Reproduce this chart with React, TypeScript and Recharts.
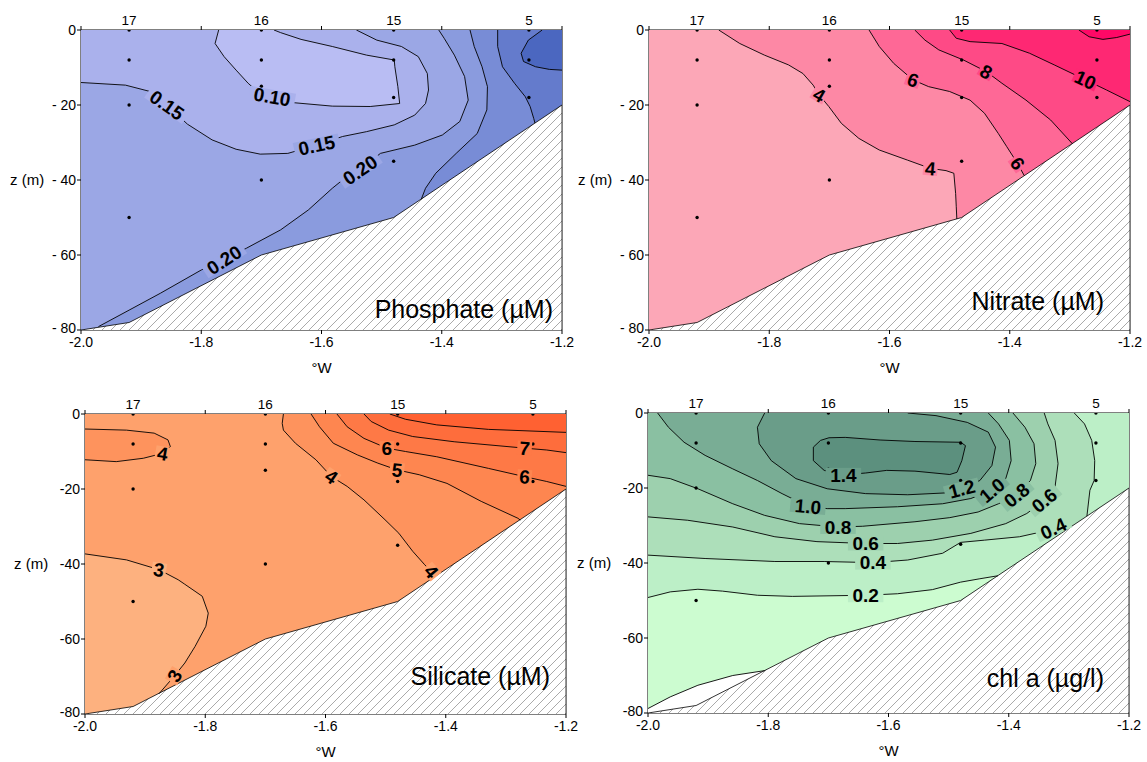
import React from "react";
import { ScatterChart, Scatter, XAxis, YAxis } from "recharts";

type Pt = [number, number];
type Lbl = { x: number; z: number; t: string; a: number; k: number };

// stations along the section (°W), names and sampled depths (m)
const stationLon = [-1.92, -1.7, -1.48, -1.255];
const stationNames = ["17", "16", "15", "5"];
const stationDepths = [
  [0, -8, -20, -50],
  [0, -8, -15, -40],
  [0, -8, -18, -35],
  [0, -8, -18],
];
const lonTicks = [-2.0, -1.8, -1.6, -1.4, -1.2];
const depthTicks = [0, -20, -40, -60, -80];

const seabed: Pt[] = [[-2.0, -80], [-1.92, -78], [-1.7, -60], [-1.48, -50], [-1.2, -20]];
const frame: Pt[] = [[-2.0, 0], [-1.2, 0], [-1.2, -80], [-2.0, -80]];

// Phosphate contours
const po4_010: Pt[] = [[-1.771, 0], [-1.777, -3.6], [-1.762, -7.1], [-1.742, -10.7], [-1.722, -14.2], [-1.708, -16.2], [-1.682, -17.8], [-1.645, -19.4], [-1.582, -20.3], [-1.519, -20.4], [-1.47, -19.6], [-1.473, -15.1], [-1.478, -9.8], [-1.479, -8.0], [-1.525, -6.7], [-1.582, -4.4], [-1.634, -2.5], [-1.668, -0.7], [-1.679, 0]];
const po4_015: Pt[] = [[-2.0, -14.0], [-1.926, -14.7], [-1.885, -16.4], [-1.857, -20.0], [-1.823, -25.1], [-1.782, -29.3], [-1.742, -31.8], [-1.702, -33.1], [-1.656, -32.9], [-1.608, -30.7], [-1.565, -28.4], [-1.525, -27.1], [-1.479, -25.3], [-1.445, -22.7], [-1.427, -19.6], [-1.422, -16.0], [-1.424, -11.6], [-1.439, -7.1], [-1.467, -4.4], [-1.508, -2.7], [-1.542, 0]];
const po4_020: Pt[] = [[-1.971, -79.1], [-1.92, -74.7], [-1.868, -70.2], [-1.8, -64.0], [-1.762, -61.3], [-1.725, -58.2], [-1.668, -53.3], [-1.622, -48.0], [-1.582, -42.2], [-1.565, -40.0], [-1.536, -37.3], [-1.502, -32.9], [-1.445, -30.7], [-1.399, -28.0], [-1.37, -24.4], [-1.356, -18.7], [-1.362, -12.4], [-1.379, -6.7], [-1.396, -2.2], [-1.405, 0]];
const po4_025: Pt[] = [[-1.353, 0], [-1.346, -4.4], [-1.333, -9.8], [-1.324, -15.1], [-1.325, -21.3], [-1.341, -27.6], [-1.376, -32.9], [-1.41, -38.2], [-1.427, -42.2], [-1.434, -45.1]];
const po4_030: Pt[] = [[-1.307, 0], [-1.307, -4.4], [-1.299, -9.8], [-1.279, -14.2], [-1.261, -17.8], [-1.253, -20.4], [-1.247, -23.6], [-1.245, -24.8]];
const po4_035: Pt[] = [[-1.233, 0], [-1.256, -2.7], [-1.268, -6.2], [-1.264, -8.4], [-1.244, -9.8], [-1.221, -10.5], [-1.2, -10.7]];
const po4Colors = ["#b9bdf3", "#aab1ec", "#9ba7e5", "#8a9bde", "#788cd6", "#647bcc", "#4b67c0"];
const po4Labels: Lbl[] = [
  { x: -1.857, z: -20.0, t: "0.15", a: 35, k: 1 },
  { x: -1.608, z: -30.7, t: "0.15", a: -12, k: 2 },
  { x: -1.682, z: -17.8, t: "0.10", a: 10, k: 1 },
  { x: -1.762, z: -61.3, t: "0.20", a: -33, k: 2 },
  { x: -1.536, z: -37.3, t: "0.20", a: -35, k: 2 },
];

// Nitrate contours
const no3_4: Pt[] = [[-1.884, 0], [-1.849, -3.6], [-1.808, -6.7], [-1.768, -9.3], [-1.744, -11.6], [-1.727, -14.7], [-1.717, -17.3], [-1.701, -20.4], [-1.68, -24.9], [-1.651, -28.9], [-1.617, -32.0], [-1.57, -34.7], [-1.532, -36.9], [-1.506, -37.5], [-1.493, -38.2], [-1.49, -43.6], [-1.489, -47.0], [-1.488, -50.4]];
const no3_6: Pt[] = [[-1.634, 0], [-1.617, -4.4], [-1.593, -8.9], [-1.561, -13.3], [-1.535, -15.1], [-1.5, -16.4], [-1.466, -18.7], [-1.442, -22.2], [-1.419, -27.6], [-1.405, -31.1], [-1.387, -35.6], [-1.376, -38.8]];
const no3_8: Pt[] = [[-1.558, 0], [-1.541, -2.7], [-1.518, -5.3], [-1.477, -8.0], [-1.439, -11.1], [-1.413, -14.2], [-1.373, -18.7], [-1.332, -24.0], [-1.296, -30.3]];
const no3_10: Pt[] = [[-1.5, 0], [-1.489, -2.2], [-1.466, -3.1], [-1.413, -3.6], [-1.367, -6.2], [-1.326, -9.3], [-1.274, -13.3], [-1.239, -16.0], [-1.2, -19.1]];
const no3_12: Pt[] = [[-1.285, 0], [-1.268, -1.8], [-1.245, -2.5], [-1.222, -2.0], [-1.2, -1.1]];
const no3Colors = ["#fca7b7", "#fd88a5", "#fe6896", "#fe4a86", "#fe2873", "#ff0866"];
const no3Labels: Lbl[] = [
  { x: -1.717, z: -17.3, t: "4", a: 30, k: 1 },
  { x: -1.532, z: -36.9, t: "4", a: 5, k: 1 },
  { x: -1.561, z: -13.3, t: "6", a: 20, k: 2 },
  { x: -1.387, z: -35.6, t: "6", a: 55, k: 2 },
  { x: -1.439, z: -11.1, t: "8", a: 30, k: 3 },
  { x: -1.274, z: -13.3, t: "10", a: 25, k: 4 },
];

// Silicate contours
const si_3: Pt[] = [[-2.0, -37.3], [-1.931, -38.9], [-1.877, -41.5], [-1.845, -44.2], [-1.834, -45.4], [-1.805, -48.6], [-1.795, -53.1], [-1.799, -56.6], [-1.817, -62.0], [-1.834, -66.4], [-1.851, -69.8], [-1.877, -74.6]];
const si_4loop: Pt[] = [[-2.0, -4.0], [-1.931, -4.3], [-1.885, -5.1], [-1.862, -6.9], [-1.858, -8.7], [-1.871, -10.5], [-1.903, -11.8], [-1.948, -12.7], [-2.0, -12.2]];
const si_4: Pt[] = [[-1.67, 0], [-1.672, -2.5], [-1.67, -4.3], [-1.65, -7.8], [-1.616, -12.2], [-1.59, -16.7], [-1.564, -19.3], [-1.536, -22.9], [-1.501, -28.2], [-1.478, -31.8], [-1.455, -36.6], [-1.435, -40.2], [-1.424, -42.0], [-1.415, -43.0]];
const si_5: Pt[] = [[-1.624, 0], [-1.61, -3.4], [-1.587, -7.8], [-1.547, -10.9], [-1.513, -13.1], [-1.481, -14.9], [-1.444, -16.2], [-1.398, -18.5], [-1.341, -23.3], [-1.28, -27.8], [-1.276, -28.3]];
const si_6: Pt[] = [[-1.581, 0], [-1.564, -3.4], [-1.536, -6.5], [-1.498, -9.1], [-1.467, -10.0], [-1.415, -11.4], [-1.329, -14.5], [-1.269, -16.7], [-1.232, -18.0], [-1.2, -19.3]];
const si_7: Pt[] = [[-1.536, 0], [-1.524, -2.0], [-1.495, -4.3], [-1.455, -6.0], [-1.386, -7.4], [-1.269, -9.1], [-1.232, -9.6], [-1.2, -10.3]];
const si_8: Pt[] = [[-1.493, 0], [-1.467, -1.4], [-1.415, -2.9], [-1.329, -4.1], [-1.2, -4.9]];
const siColors = ["#fdb17f", "#fea16c", "#fe935d", "#fe8650", "#fe7946", "#fe6d3c", "#ff6132"];
const siLabels: Lbl[] = [
  { x: -1.871, z: -10.5, t: "4", a: 10, k: 1 },
  { x: -1.59, z: -16.7, t: "4", a: 35, k: 1 },
  { x: -1.424, z: -42.0, t: "4", a: 50, k: 1 },
  { x: -1.481, z: -14.9, t: "5", a: 5, k: 2 },
  { x: -1.498, z: -9.1, t: "6", a: 0, k: 3 },
  { x: -1.269, z: -16.7, t: "6", a: 5, k: 3 },
  { x: -1.269, z: -9.1, t: "7", a: 5, k: 4 },
  { x: -1.877, z: -41.5, t: "3", a: 10, k: 0 },
  { x: -1.851, z: -69.8, t: "3", a: -60, k: 1 },
];

// chl a contours
const chl_00: Pt[] = [[-2.0, -78.8], [-1.963, -75.7], [-1.917, -72.6], [-1.859, -70.0], [-1.806, -68.7]];
const chl_02: Pt[] = [[-2.0, -49.2], [-1.963, -47.7], [-1.917, -47.0], [-1.876, -47.5], [-1.818, -48.6], [-1.76, -48.9], [-1.638, -48.6], [-1.585, -48.2], [-1.527, -47.1], [-1.48, -45.1], [-1.448, -44.2], [-1.418, -43.4]];
const chl_04a: Pt[] = [[-2.0, -37.9], [-1.905, -38.8], [-1.789, -39.6], [-1.707, -39.6], [-1.626, -39.9], [-1.568, -39.2], [-1.51, -37.4], [-1.48, -34.5], [-1.44, -33.9], [-1.382, -33.0], [-1.326, -31.0], [-1.303, -30.9]];
const chl_04b: Pt[] = [[-1.291, 0], [-1.274, -2.9], [-1.262, -7.3], [-1.257, -12.7], [-1.258, -18.0], [-1.265, -20.6], [-1.27, -27.5]];
const chl_06: Pt[] = [[-2.0, -27.7], [-1.934, -28.6], [-1.859, -30.4], [-1.789, -33.0], [-1.719, -34.3], [-1.638, -34.8], [-1.585, -34.8], [-1.527, -33.9], [-1.463, -32.1], [-1.405, -29.5], [-1.37, -26.8], [-1.341, -23.3], [-1.323, -19.7], [-1.318, -13.5], [-1.323, -7.3], [-1.335, -2.9], [-1.341, 0]];
const chl_08: Pt[] = [[-2.0, -16.6], [-1.963, -17.5], [-1.917, -20.2], [-1.859, -24.2], [-1.806, -27.3], [-1.748, -29.5], [-1.684, -30.4], [-1.643, -30.2], [-1.556, -29.0], [-1.498, -27.9], [-1.451, -26.4], [-1.417, -24.2], [-1.387, -21.9], [-1.364, -18.0], [-1.355, -13.5], [-1.358, -8.2], [-1.373, -3.8], [-1.393, 0]];
const chl_10: Pt[] = [[-1.984, 0], [-1.966, -3.8], [-1.94, -7.8], [-1.905, -11.3], [-1.859, -14.9], [-1.818, -18.0], [-1.777, -21.5], [-1.734, -24.9], [-1.702, -25.5], [-1.672, -25.5], [-1.585, -25.0], [-1.51, -24.2], [-1.463, -22.8], [-1.428, -20.6], [-1.405, -17.5], [-1.396, -12.7], [-1.399, -7.3], [-1.417, -2.9], [-1.434, 0]];
const chl_12: Pt[] = [[-1.806, 0], [-1.818, -3.8], [-1.815, -8.2], [-1.795, -12.7], [-1.754, -17.5], [-1.702, -20.2], [-1.638, -21.5], [-1.568, -21.8], [-1.504, -21.3], [-1.478, -20.2], [-1.448, -18.0], [-1.428, -14.0], [-1.422, -9.1], [-1.434, -5.1], [-1.469, -2.5], [-1.521, -0.7], [-1.568, 0]];
const chl_14: Pt[] = [[-1.699, -6.6], [-1.672, -6.5], [-1.614, -7.2], [-1.556, -7.6], [-1.48, -7.8], [-1.472, -8.7], [-1.478, -12.7], [-1.486, -15.8], [-1.498, -16.4], [-1.556, -15.5], [-1.603, -15.3], [-1.638, -16.0], [-1.675, -16.5], [-1.707, -15.3], [-1.725, -12.7], [-1.725, -9.1], [-1.713, -7.3], [-1.699, -6.6]];
const chlColors = ["#ffffff", "#ccfcd0", "#bcefc7", "#addfba", "#9dd0ae", "#8ac0a2", "#79ad95", "#6a9d89", "#5c907e"];
const chlLabels: Lbl[] = [
  { x: -1.675, z: -16.5, t: "1.4", a: 0, k: 7 },
  { x: -1.478, z: -20.2, t: "1.2", a: -15, k: 6 },
  { x: -1.734, z: -24.9, t: "1.0", a: 5, k: 6 },
  { x: -1.428, z: -20.6, t: "1.0", a: -40, k: 6 },
  { x: -1.684, z: -30.4, t: "0.8", a: 0, k: 5 },
  { x: -1.387, z: -21.9, t: "0.8", a: -40, k: 5 },
  { x: -1.638, z: -34.8, t: "0.6", a: 0, k: 4 },
  { x: -1.341, z: -23.3, t: "0.6", a: -40, k: 4 },
  { x: -1.626, z: -39.9, t: "0.4", a: 0, k: 3 },
  { x: -1.326, z: -30.8, t: "0.4", a: -25, k: 3 },
  { x: -1.638, z: -48.6, t: "0.2", a: 0, k: 2 },
];

const FONT = "'Liberation Sans', Arial, sans-serif";
const W = 577;
const H = 380;

const pts = (a: Pt[]) => a.map(([x, z]) => ({ x, z }));
const noDot = () => <g />;

const stationPts = stationLon.flatMap((x, i) => stationDepths[i].map((z) => ({ x, z })));

const panels = [
  {
    id: "po4", left: 0, top: 0, spaced: true,
    title: "Phosphate (µM)", titleRight: 553, titleBase: 318,
    colors: po4Colors,
    fills: [
      { k: 2, p: frame },
      { k: 1, p: [...po4_015, [-2.0, 0]] as Pt[] },
      { k: 0, p: po4_010 },
      { k: 3, p: [...po4_020, [-1.2, 0], [-1.2, -80], [-2.0, -80]] as Pt[] },
      { k: 4, p: [...po4_025, [-1.2, -80], [-1.2, 0]] as Pt[] },
      { k: 5, p: [...po4_030, [-1.2, -40], [-1.2, 0]] as Pt[] },
      { k: 6, p: [...po4_035, [-1.2, 0]] as Pt[] },
    ],
    lines: [po4_010, po4_015, po4_020, po4_025, po4_030, po4_035],
    labels: po4Labels,
  },
  {
    id: "no3", left: 568, top: 0, spaced: true,
    title: "Nitrate (µM)", titleRight: 1104, titleBase: 310,
    colors: no3Colors,
    fills: [
      { k: 0, p: frame },
      { k: 1, p: [...no3_4, [-1.2, -80], [-1.2, 0]] as Pt[] },
      { k: 2, p: [...no3_6, [-1.2, -80], [-1.2, 0]] as Pt[] },
      { k: 3, p: [...no3_8, [-1.2, -80], [-1.2, 0]] as Pt[] },
      { k: 4, p: [...no3_10, [-1.2, 0]] as Pt[] },
      { k: 5, p: [...no3_12, [-1.2, 0]] as Pt[] },
    ],
    lines: [no3_4, no3_6, no3_8, no3_10, no3_12],
    labels: no3Labels,
  },
  {
    id: "si", left: 4, top: 384, spaced: false,
    title: "Silicate (µM)", titleRight: 550, titleBase: 685,
    colors: siColors,
    fills: [
      { k: 1, p: frame },
      { k: 0, p: [...si_3, [-1.92, -80], [-2.0, -80]] as Pt[] },
      { k: 2, p: si_4loop },
      { k: 2, p: [...si_4, [-1.2, -80], [-1.2, 0]] as Pt[] },
      { k: 3, p: [...si_5, [-1.2, -40], [-1.2, 0]] as Pt[] },
      { k: 4, p: [...si_6, [-1.2, 0]] as Pt[] },
      { k: 5, p: [...si_7, [-1.2, 0]] as Pt[] },
      { k: 6, p: [...si_8, [-1.2, 0]] as Pt[] },
    ],
    lines: [si_3, si_4loop, si_4, si_5, si_6, si_7, si_8],
    labels: siLabels,
  },
  {
    id: "chl", left: 567, top: 383, spaced: false,
    title: "chl a (µg/l)", titleRight: 1104, titleBase: 687,
    colors: chlColors,
    fills: [
      { k: 1, p: frame },
      { k: 0, p: [...chl_00, [-1.8, -80], [-2.0, -80]] as Pt[] },
      { k: 2, p: [...chl_02, [-1.2, -50], [-1.2, 0], [-2.0, 0]] as Pt[] },
      { k: 3, p: [...chl_04a, [-1.29, -38], ...[...chl_04b].reverse(), [-2.0, 0]] as Pt[] },
      { k: 4, p: [...chl_06, [-2.0, 0]] as Pt[] },
      { k: 5, p: [...chl_08, [-2.0, 0]] as Pt[] },
      { k: 6, p: chl_10 },
      { k: 7, p: chl_12 },
      { k: 8, p: chl_14 },
    ],
    lines: [chl_00, chl_02, chl_04a, chl_04b, chl_06, chl_08, chl_10, chl_12, chl_14],
    labels: chlLabels,
  },
];

const TopTick = (p: any) => {
  const v = p.payload.value;
  const k = stationLon.indexOf(v);
  if (k >= 0) {
    return (
      <text x={p.x} y={p.y - 5} textAnchor="middle" fontSize={13.5} fill="#000" fontFamily={FONT}>
        {stationNames[k]}
      </text>
    );
  }
  return <line x1={p.x} y1={p.y} x2={p.x} y2={p.y - 4} stroke="#000" />;
};

function Panel({ cfg }: { cfg: (typeof panels)[number] }) {
  const labelShape = (p: any) => {
    const d = p.payload as Lbl;
    const w = d.t.length * 10.5 + 4;
    return (
      <g transform={`rotate(${d.a} ${p.cx} ${p.cy})`}>
        <rect x={p.cx - w / 2} y={p.cy - 7} width={w} height={14} fill={cfg.colors[d.k]} />
        <text x={p.cx} y={p.cy} dy="0.36em" textAnchor="middle" fontSize={19} fontWeight="bold" fontFamily={FONT} fill="#000">
          {d.t}
        </text>
      </g>
    );
  };
  const topValues = [...lonTicks, ...stationLon].sort((a, b) => a - b);
  const fmt = (v: number) => (v === 0 ? "0" : cfg.spaced ? `- ${Math.abs(v)}` : `${v}`);
  // depth tick labels; the lowest one is nudged up so it clears the -2.0 label
  const LeftTick = (p: any) => (
    <text x={p.x} y={p.y + (p.payload.value === -80 ? -2 : 0)} dy="0.35em" textAnchor="end"
      fontSize={14} fill="#000" fontFamily={FONT}>
      {fmt(p.payload.value)}
    </text>
  );
  return (
    <div style={{ position: "absolute", left: cfg.left, top: cfg.top, width: W, height: H }}>
      <ScatterChart width={W} height={H} margin={{ top: 10, right: 5, bottom: 5, left: 8 }}>
        <defs>
          <pattern id={`hatch-${cfg.id}`} width={9} height={9} patternUnits="userSpaceOnUse">
            <rect width={9} height={9} fill="#fff" />
            <path d="M-1,1 L1,-1 M0,9 L9,0 M8,10 L10,8" stroke="#a0a0a0" strokeWidth={0.9} />
          </pattern>
        </defs>
        {cfg.fills.map((f, i) => (
          <Scatter key={`f${i}`} data={pts(f.p)} xAxisId="b" yAxisId="l" shape={noDot}
            line={{ fill: cfg.colors[f.k], stroke: "none" }} isAnimationActive={false} />
        ))}
        <Scatter data={pts([...seabed, [-1.2, -80]])} xAxisId="b" yAxisId="l" shape={noDot}
          line={{ fill: `url(#hatch-${cfg.id})`, stroke: "#000", strokeWidth: 0.8 }} isAnimationActive={false} />
        {cfg.lines.map((l, i) => (
          <Scatter key={`l${i}`} data={pts(l)} xAxisId="b" yAxisId="l" shape={noDot}
            line={{ fill: "none", stroke: "#000", strokeWidth: 0.9 }} isAnimationActive={false} />
        ))}
        <Scatter data={stationPts} xAxisId="b" yAxisId="l" isAnimationActive={false}
          shape={(p: any) => <circle cx={p.cx} cy={p.cy} r={1.7} fill="#000" />} />
        <Scatter data={cfg.labels} xAxisId="b" yAxisId="l" isAnimationActive={false} shape={labelShape} />
        <Scatter data={pts(seabed)} xAxisId="t" yAxisId="r" shape={noDot} isAnimationActive={false} />
        <XAxis xAxisId="b" dataKey="x" type="number" domain={[-2.0, -1.2]} allowDataOverflow ticks={lonTicks}
          interval={0} height={45} tickSize={4} tickMargin={3} tickFormatter={(v: number) => v.toFixed(1)}
          axisLine={{ stroke: "#000" }} tickLine={{ stroke: "#000" }}
          tick={{ fontSize: 14, fill: "#000", fontFamily: FONT }}
          label={{ value: "°W", position: "insideBottom", offset: 2, fontSize: 15, fill: "#000", fontFamily: FONT }} />
        <XAxis xAxisId="t" orientation="top" dataKey="x" type="number" domain={[-2.0, -1.2]} allowDataOverflow
          ticks={topValues} interval={0} height={20} tickSize={0} tickMargin={0} tickLine={false}
          axisLine={{ stroke: "#000" }} tick={TopTick} />
        <YAxis yAxisId="l" dataKey="z" type="number" domain={[-80, 0]} allowDataOverflow ticks={depthTicks}
          interval={0} width={73} tickSize={4} tickMargin={1}
          axisLine={{ stroke: "#000" }} tickLine={{ stroke: "#000" }} tick={LeftTick}
          label={{ value: "z (m)", position: "insideLeft", offset: 2, fontSize: 15, fill: "#000", fontFamily: FONT }} />
        <YAxis yAxisId="r" orientation="right" dataKey="z" type="number" domain={[-80, 0]} allowDataOverflow
          ticks={depthTicks} interval={0} width={10} tickSize={4} tick={false}
          axisLine={{ stroke: "#000" }} tickLine={{ stroke: "#000" }} />
      </ScatterChart>
    </div>
  );
}

export default function App() {
  return (
    <div style={{ position: "absolute", left: 0, top: 0, width: 1147, height: 762, background: "#fff", fontFamily: FONT }}>
      {panels.map((cfg) => (
        <Panel key={cfg.id} cfg={cfg} />
      ))}
      {panels.map((cfg) => (
        <span key={`t-${cfg.id}`} style={{
          position: "absolute", right: 1147 - cfg.titleRight, top: cfg.titleBase - 21,
          fontSize: 25, lineHeight: "25px", color: "#000", whiteSpace: "nowrap",
        }}>
          {cfg.title}
        </span>
      ))}
    </div>
  );
}
